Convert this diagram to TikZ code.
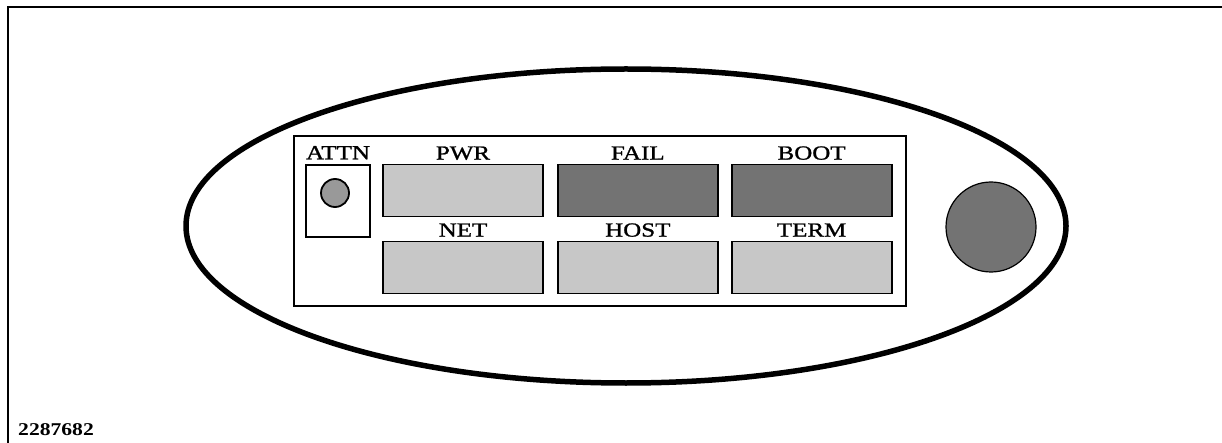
\documentclass[tikz,border=0pt]{standalone}
\usepackage{fontspec}
\setmainfont{Liberation Serif}
\newfontfamily\panelfont[FakeStretch=1.25,FakeBold=1.2]{Liberation Serif}
\newfontfamily\numfont[FakeStretch=1.2]{Liberation Serif}
\usetikzlibrary{positioning}

\tikzset{
  lamp/.style={draw, line width=1.8pt, minimum width=160pt, minimum height=52pt, inner sep=0pt},
  lampon/.style={lamp, fill=black!55},
  lampoff/.style={lamp, fill=black!22},
  tag/.style={font=\panelfont\fontsize{20}{20}\selectfont, inner sep=0pt, anchor=base},
}

\begin{document}
\begin{tikzpicture}[x=1pt,y=-1pt]
  \useasboundingbox (0,0) rectangle (1222,443);
  % frame
  \draw [line width=1.8pt] (8,443) -- (8,7) -- (1222,7);
  \draw [line width=5.5pt] (626,226) ellipse [x radius=440pt, y radius=157pt];
  \draw [line width=1.4pt] (294,136) rectangle (906,306);
  % attention button
  \node [draw, line width=1.4pt, minimum width=64pt, minimum height=72pt, inner sep=0pt] (attn) at (338,201) {};
  \node [circle, draw, line width=1.8pt, fill=black!40, minimum size=28pt, inner sep=0pt] (attnbtn) at (335,193) {};
  \node [tag] (attnlbl) at ([yshift=5pt]attn.north) {ATTN};
  % lamps
  \node [lampoff] (pwr) at (463,190.5) {};
  \node [lampon, right=13pt of pwr] (fail) {};
  \node [lampon, right=12pt of fail] (boot) {};
  \node [lampoff] (net) at (463,267.5) {};
  \node [lampoff, right=13pt of net] (host) {};
  \node [lampoff, right=12pt of host] (term) {};
  \foreach \nm/\txt in {pwr/PWR, fail/FAIL, boot/BOOT, net/NET, host/HOST, term/TERM}
    \node [tag] (\nm lbl) at ([yshift=4pt]\nm.north) {\txt};
  % knob
  \node [circle, draw, line width=1.2pt, fill=black!55, minimum size=90pt, inner sep=0pt] (knob) at (991,227) {};
  \node [font=\numfont\bfseries\fontsize{18}{18}\selectfont, anchor=base west, inner sep=0pt] (figno) at (18,435) {2287682};
\end{tikzpicture}
\end{document}
